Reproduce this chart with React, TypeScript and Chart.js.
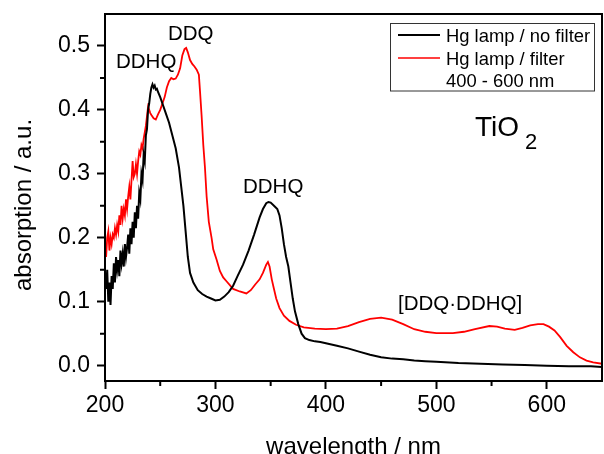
import React, { useEffect, useRef } from "react";
import { Chart, registerables } from "chart.js";

Chart.register(...registerables);

const blackWl = [
  200, 201, 202, 203, 204, 205, 206, 207, 208, 209,
  210, 211, 212, 213, 214, 215, 216, 217, 218, 219,
  220, 221, 222, 223, 224, 225, 226, 227, 228, 229,
  230, 231, 232, 233, 234, 235, 236, 237, 238, 239,
  240, 241, 242, 243, 244, 245, 246, 247, 248, 250,
  252, 255, 258, 261, 264, 267, 269, 271, 273, 275,
  277, 280, 284, 288, 292, 296, 300, 304, 308, 312,
  316, 320, 325, 330, 335, 340, 343, 346, 348, 350,
  353, 356, 358, 360, 362, 364, 366, 368, 370, 372,
  375, 378, 381, 385, 390, 395, 400, 410, 420, 430,
  440, 450, 460, 470, 480, 490, 500, 520, 540, 560,
  580, 600, 620, 640, 650,
];
const blackAbs = [
  0.14, 0.12, 0.15, 0.10, 0.13, 0.095, 0.14, 0.12, 0.16, 0.13,
  0.17, 0.15, 0.165, 0.14, 0.18, 0.16, 0.175, 0.155, 0.19, 0.17,
  0.185, 0.205, 0.175, 0.215, 0.19, 0.225, 0.2, 0.24, 0.215, 0.25,
  0.23, 0.27, 0.26, 0.3, 0.29, 0.33, 0.32, 0.36, 0.37, 0.4,
  0.41, 0.425, 0.435, 0.44, 0.435, 0.438, 0.432, 0.433, 0.428, 0.42,
  0.41, 0.395, 0.38, 0.36, 0.34, 0.31, 0.28, 0.25, 0.21, 0.17,
  0.145, 0.13, 0.118, 0.112, 0.108, 0.105, 0.102, 0.103, 0.108, 0.115,
  0.125, 0.14, 0.158, 0.18, 0.205, 0.232, 0.245, 0.254, 0.256, 0.255,
  0.25, 0.245, 0.235, 0.215, 0.19, 0.17, 0.155, 0.13, 0.105, 0.085,
  0.065, 0.05, 0.043, 0.04, 0.038, 0.037, 0.035, 0.031, 0.027, 0.022,
  0.017, 0.013, 0.011, 0.01, 0.008, 0.007, 0.006, 0.004, 0.003, 0.002,
  0.001, 0.0, -0.001, -0.001, -0.002,
];

const redWl = [
  200, 201, 202, 203, 204, 205, 206, 207, 208, 209,
  210, 211, 212, 213, 214, 215, 216, 217, 218, 219,
  220, 221, 222, 223, 224, 225, 226, 227, 228, 229,
  230, 231, 232, 233, 234, 235, 236, 237, 238, 239,
  240, 241, 242, 244, 246, 248, 250, 252, 254, 256,
  258, 260, 262, 264, 266, 268, 270, 272, 273.5, 275,
  277, 279, 281, 283, 285, 286, 287.5, 289, 290.5, 292,
  294, 296.5, 298, 301, 304, 307, 310, 316, 322, 328,
  332, 336, 340, 343, 346, 347.5, 349, 351, 353, 355,
  358, 362, 367, 373, 380, 390, 400, 410, 420, 430,
  440, 450, 460, 470, 480, 490, 500, 515, 525, 535,
  548, 555, 562, 571, 578, 585, 592, 597, 602, 607,
  612, 618, 624, 630, 636, 642, 650,
];
const redAbs = [
  0.19, 0.17, 0.2, 0.21, 0.18, 0.2, 0.19, 0.205, 0.2, 0.215,
  0.205, 0.22, 0.21, 0.235, 0.22, 0.25, 0.23, 0.245, 0.235, 0.26,
  0.245, 0.265, 0.28, 0.26, 0.29, 0.32, 0.295, 0.3, 0.315, 0.3,
  0.32, 0.335, 0.33, 0.345, 0.34, 0.355, 0.365, 0.375, 0.39, 0.405,
  0.4, 0.395, 0.392, 0.387, 0.385, 0.393, 0.4, 0.41, 0.42, 0.435,
  0.445, 0.45, 0.448, 0.449, 0.455, 0.465, 0.485, 0.495, 0.497, 0.49,
  0.478, 0.472, 0.468, 0.463, 0.455, 0.43, 0.39, 0.345, 0.31, 0.265,
  0.225, 0.2, 0.182, 0.166, 0.148, 0.138, 0.132, 0.12, 0.116, 0.113,
  0.118, 0.127, 0.135, 0.145, 0.158, 0.162, 0.155, 0.135, 0.12, 0.105,
  0.09, 0.078, 0.07, 0.064, 0.06, 0.058, 0.057, 0.058, 0.062, 0.068,
  0.073, 0.075, 0.072, 0.065, 0.057, 0.053, 0.051, 0.051, 0.053, 0.057,
  0.062, 0.061, 0.058, 0.056, 0.059, 0.063, 0.065, 0.065, 0.061, 0.055,
  0.045, 0.031, 0.021, 0.013, 0.008, 0.005, 0.003,
];

const seriesNames = ["Hg lamp / no filter", "Hg lamp / filter"];
const legendExtra = "400 - 600 nm";
const xMinorTicks = [250, 350, 450, 550];
const yMinorTicks = [0.05, 0.15, 0.25, 0.35, 0.45];
const xTitle = "wavelength / nm";
const yTitle = "absorption / a.u.";

const FONT = "'Liberation Sans', Arial, sans-serif";

const overlayPlugin = {
  id: "overlay",
  afterDraw(chart: any) {
    const ctx = chart.ctx as CanvasRenderingContext2D;
    const { left, right, top, bottom } = chart.chartArea;
    const xs = chart.scales.x;
    const ys = chart.scales.y;
    ctx.save();
    // frame
    ctx.strokeStyle = "#000";
    ctx.lineWidth = 2;
    ctx.strokeRect(left, top, right - left, bottom - top);
    // minor ticks
    ctx.beginPath();
    xMinorTicks.forEach((v) => {
      const px = xs.getPixelForValue(v);
      ctx.moveTo(px, bottom);
      ctx.lineTo(px, bottom + 5);
    });
    yMinorTicks.forEach((v) => {
      const py = ys.getPixelForValue(v);
      ctx.moveTo(left, py);
      ctx.lineTo(left - 5, py);
    });
    ctx.stroke();

    ctx.fillStyle = "#000";
    // axis titles
    ctx.font = `24px ${FONT}`;
    ctx.textAlign = "center";
    ctx.textBaseline = "alphabetic";
    ctx.fillText(xTitle, (left + right) / 2, 454);
    ctx.save();
    ctx.translate(30.5, 205);
    ctx.rotate(-Math.PI / 2);
    ctx.fillText(yTitle, 0, 0);
    ctx.restore();

    // annotations
    ctx.textAlign = "left";
    ctx.font = `20.5px ${FONT}`;
    ctx.fillText("DDHQ", 116, 67.5);
    ctx.fillText("DDQ", 168, 39.5);
    ctx.fillText("DDHQ", 243, 193.3);
    ctx.fillText("[DDQ\u00B7DDHQ]", 398, 310);
    ctx.font = `28px ${FONT}`;
    ctx.fillText("TiO", 475, 136);
    ctx.font = `22px ${FONT}`;
    ctx.fillText("2", 525, 149);

    // legend
    ctx.lineWidth = 1;
    ctx.strokeStyle = "#333";
    ctx.strokeRect(390.5, 23.5, 204, 67.5);
    ctx.lineWidth = 2;
    ctx.strokeStyle = "#000";
    ctx.beginPath();
    ctx.moveTo(398, 35);
    ctx.lineTo(440, 35);
    ctx.stroke();
    ctx.strokeStyle = "#ff0000";
    ctx.lineWidth = 1.5;
    ctx.beginPath();
    ctx.moveTo(398, 58);
    ctx.lineTo(440, 58);
    ctx.stroke();
    ctx.font = `18.4px ${FONT}`;
    ctx.fillStyle = "#000";
    ctx.fillText(seriesNames[0], 446, 41.7);
    ctx.fillText(seriesNames[1], 446, 64.8);
    ctx.fillText(legendExtra, 446, 87.3);
    ctx.restore();
  },
};

export default function App() {
  const ref = useRef<HTMLCanvasElement | null>(null);
  useEffect(() => {
    if (!ref.current) return;
    const blackData = blackWl.map((x, i) => ({ x, y: blackAbs[i] }));
    const redData = redWl.map((x, i) => ({ x, y: redAbs[i] }));
    const chart = new Chart(ref.current, {
      type: "line",
      data: {
        datasets: [
          {
            label: seriesNames[0],
            data: blackData,
            borderColor: "#000000",
            borderWidth: 2,
            pointRadius: 0,
            tension: 0,
            fill: false,
          },
          {
            label: seriesNames[1],
            data: redData,
            borderColor: "#ff0000",
            borderWidth: 1.8,
            pointRadius: 0,
            tension: 0,
            fill: false,
          },
        ],
      },
      options: {
        animation: false,
        responsive: false,
        layout: { padding: { top: 14, right: 2, left: 0, bottom: 0 } },
        plugins: {
          legend: { display: false },
          tooltip: { enabled: false },
        },
        scales: {
          x: {
            type: "linear",
            min: 200,
            max: 650,
            border: { display: false },
            grid: {
              drawOnChartArea: false,
              drawTicks: true,
              tickLength: 8,
              tickWidth: 2,
              tickColor: "#000",
            },
            ticks: {
              stepSize: 100,
              includeBounds: false,
              color: "#000",
              font: { family: FONT, size: 23 },
              padding: 3,
              maxRotation: 0,
              callback: (v: any) => String(v),
            },
            afterFit: (s: any) => {
              s.height = 73;
              s.paddingLeft = 0;
              s.paddingRight = 0;
            },
          },
          y: {
            type: "linear",
            min: -0.024,
            max: 0.55,
            border: { display: false },
            grid: {
              drawOnChartArea: false,
              drawTicks: true,
              tickLength: 8,
              tickWidth: 2,
              tickColor: "#000",
            },
            ticks: {
              stepSize: 0.1,
              includeBounds: false,
              color: "#000",
              font: { family: FONT, size: 23 },
              padding: 7,
              callback: (v: any) => Number(v).toFixed(1),
            },
            afterFit: (s: any) => {
              s.width = 105;
              s.paddingTop = 0;
              s.paddingBottom = 0;
            },
          },
        },
      },
      plugins: [overlayPlugin],
    });
    return () => chart.destroy();
  }, []);
  return (
    <div style={{ position: "absolute", left: 0, top: 0, width: 604, height: 454, background: "#fff" }}>
      <canvas ref={ref} width={604} height={454} />
    </div>
  );
}
